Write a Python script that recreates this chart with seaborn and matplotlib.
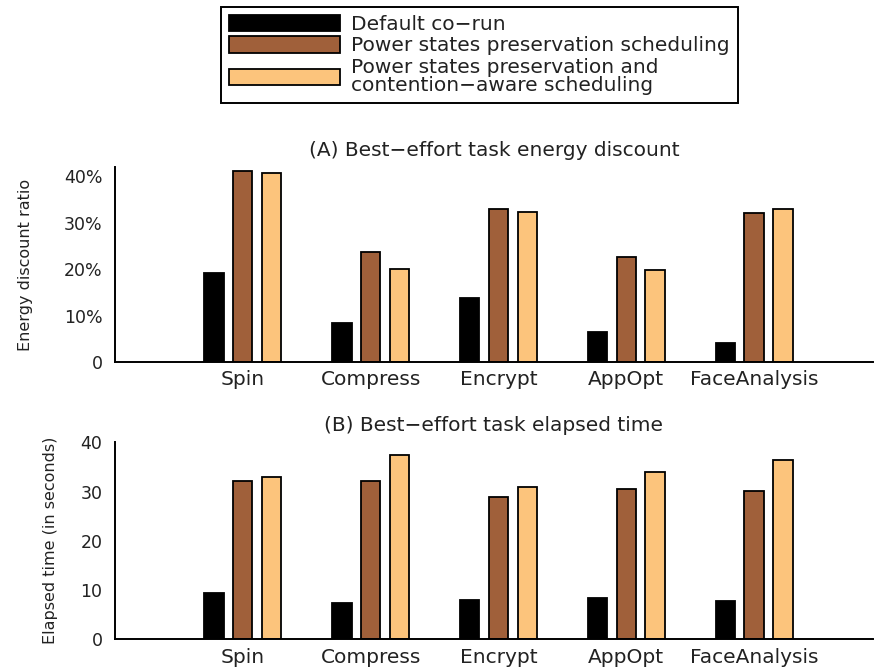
import matplotlib
matplotlib.use("Agg")
import matplotlib.pyplot as plt
import seaborn as sns
import pandas as pd

categories = ["Spin", "Compress", "Encrypt", "AppOpt", "FaceAnalysis"]
series = [
    "Default co\u2212run",
    "Power states preservation scheduling",
    "Power states preservation and\ncontention\u2212aware scheduling",
]
energy_default = [19.1, 8.3, 13.7, 6.5, 4.0]
energy_psp = [41.1, 23.8, 33.0, 22.7, 32.0]
energy_pspca = [40.7, 20.1, 32.4, 19.8, 33.0]
time_default = [9.4, 7.3, 8.0, 8.4, 7.7]
time_psp = [32.2, 32.2, 28.8, 30.5, 30.2]
time_pspca = [32.9, 37.4, 30.9, 34.0, 36.4]
energy_ticks = [0, 10, 20, 30, 40]
energy_ticklabels = ["0", "10%", "20%", "30%", "40%"]
time_ticks = [0, 10, 20, 30, 40]
title_a = "(A) Best\u2212effort task energy discount"
title_b = "(B) Best\u2212effort task elapsed time"
ylabel_a = "Energy discount ratio"
ylabel_b = "Elapsed time (in seconds)"
colors = ["#000000", "#A0603A", "#FCC47C"]


def long_df(vals_list):
    rows = []
    for s, vals in zip(series, vals_list):
        for c, v in zip(categories, vals):
            rows.append({"cat": c, "series": s, "val": v})
    return pd.DataFrame(rows)


df_a = long_df([energy_default, energy_psp, energy_pspca])
df_b = long_df([time_default, time_psp, time_pspca])

sns.set_style("white")
plt.rcParams["font.family"] = ["DejaVu Sans"]

W, H = 874, 669
fig = plt.figure(figsize=(W / 100, H / 100), dpi=100)
ax1 = fig.add_axes([115 / W, 1 - 362 / H, 758 / W, (362 - 167) / H])
ax2 = fig.add_axes([115 / W, 1 - 639.3 / H, 758 / W, (639.3 - 442.3) / H])

for ax, df in ((ax1, df_a), (ax2, df_b)):
    sns.barplot(data=df, x="cat", y="val", hue="series", order=categories,
                hue_order=series, palette=colors, saturation=1, width=0.675,
                gap=0.33, edgecolor="black", linewidth=1.3, ax=ax,
                errorbar=None)

handles, labels = ax1.get_legend_handles_labels()
for ax in (ax1, ax2):
    if ax.get_legend() is not None:
        ax.get_legend().remove()
    ax.set_xlim(-1.0, 4.93)
    for sp in ("top", "right"):
        ax.spines[sp].set_visible(False)
    for sp in ("left", "bottom"):
        ax.spines[sp].set_linewidth(1.4)
        ax.spines[sp].set_color("black")
    ax.tick_params(axis="x", length=0, pad=6, labelsize=14.5, colors="#222222")
    ax.tick_params(axis="y", direction="in", length=6, width=1.3, pad=9,
                   labelsize=12.5, colors="#222222")
    ax.tick_params(axis="y", color="black")
    ax.set_xlabel("")

ax1.set_ylim(0, 42)
ax1.set_yticks(energy_ticks)
ax1.set_yticklabels(energy_ticklabels)
ax2.set_ylim(0, 40)
ax2.set_yticks(time_ticks)

ax1.set_ylabel(ylabel_a, fontsize=11.5, color="#222222")
ax2.set_ylabel(ylabel_b, fontsize=11.5, color="#222222")
ax1.yaxis.set_label_coords(-0.108, 0.5)
ax2.yaxis.set_label_coords(-0.075, 0.5)

ax1.set_title(title_a, fontsize=14.5, pad=8, color="#222222")
ax2.set_title(title_b, fontsize=14.5, pad=8, color="#222222")

leg = fig.legend(handles, labels, loc="upper left",
                 bbox_to_anchor=(221 / W, 1 - 7 / H), borderaxespad=0,
                 fontsize=14.5, handlelength=5.5, handleheight=0.85,
                 handletextpad=0.55, labelspacing=0.12, borderpad=0.4,
                 fancybox=False, framealpha=1, edgecolor="black")
leg.get_frame().set_linewidth(1.4)
for t in leg.get_texts():
    t.set_color("#222222")
    t.set_linespacing(0.95)

fig.savefig("out.png", dpi=100)
